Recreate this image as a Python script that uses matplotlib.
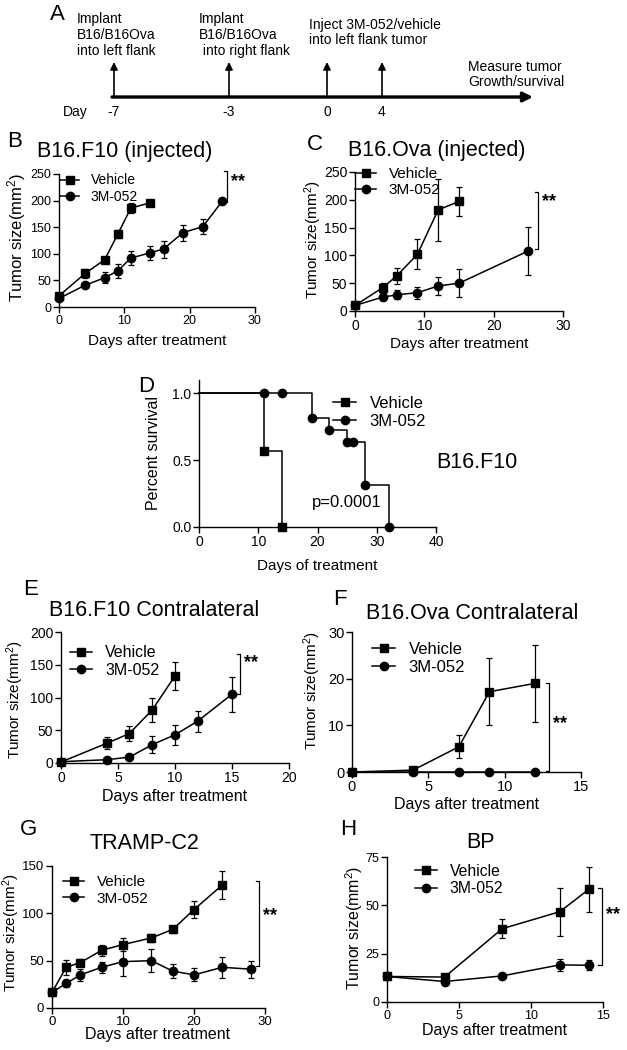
import matplotlib
matplotlib.use("Agg")
import matplotlib.pyplot as plt
from matplotlib.lines import Line2D

plt.rcParams.update({
    "font.family": ["Liberation Sans", "DejaVu Sans"],
    "mathtext.fontset": "custom",
    "mathtext.rm": "Liberation Sans",
    "mathtext.it": "Liberation Sans",
    "axes.linewidth": 1.0,
})

# ── data ──────────────────────────────────────────────────────────────────────

# A: schedule
timeline_days = ["-7", "-3", "0", "4"]
timeline_notes = [
    "Implant\nB16/B16Ova\ninto left flank",
    "Implant\nB16/B16Ova\n into right flank",
    "Inject 3M-052/vehicle\ninto left flank tumor",
]
timeline_end = "Measure tumor\nGrowth/survival"

# B: B16.F10 injected
b_days_veh = [0, 4, 7, 9, 11, 14]
b_veh = [21, 63, 89, 137, 186, 196]
b_veh_err = [3, 8, 4, 8, 10, 4]
b_days_3m = [0, 4, 7, 9, 11, 14, 16, 19, 22, 25]
b_3m = [16, 41, 55, 68, 92, 102, 109, 140, 151, 199]
b_3m_err = [3, 3, 10, 13, 13, 13, 16, 15, 14, 3]

# C: B16.Ova injected
c_days_veh = [0, 4, 6, 9, 12, 15]
c_veh = [10, 42, 63, 102, 182, 197]
c_veh_err = [3, 9, 15, 27, 56, 26]
c_days_3m = [0, 4, 6, 9, 12, 15, 25]
c_3m = [10, 25, 29, 33, 45, 50, 108]
c_3m_err = [3, 6, 8, 11, 17, 25, 43]

# D: survival, B16.F10
d_veh_t = [0, 11, 14]
d_veh_s = [1.0, 0.571, 0.0]
d_veh_mark_t = [11, 14]
d_veh_mark_s = [0.571, 0.0]
d_3m_t = [0, 19, 22, 25, 28, 32]
d_3m_s = [1.0, 0.818, 0.727, 0.636, 0.318, 0.0]
d_3m_mark_t = [11, 14, 19, 22, 25, 26, 28, 32]
d_3m_mark_s = [1.0, 1.0, 0.818, 0.727, 0.636, 0.636, 0.318, 0.0]

# E: B16.F10 contralateral
e_days_veh = [0, 4, 6, 8, 10]
e_veh = [1.5, 30, 45, 81, 133]
e_veh_err = [1, 9, 12, 18, 21]
e_days_3m = [0, 4, 6, 8, 10, 12, 15]
e_3m = [2, 5, 9, 28, 43, 64, 105]
e_3m_err = [1, 2, 4, 13, 15, 16, 27]

# F: B16.Ova contralateral
f_days = [0, 4, 7, 9, 12]
f_veh = [0, 0.4, 5.4, 17.2, 19.0]
f_veh_err = [0, 0.3, 2.5, 7.2, 8.2]
f_3m = [0, 0, 0, 0, 0]
f_3m_err = [0, 0, 0, 0, 0]

# G: TRAMP-C2
g_days_veh = [0, 2, 4, 7, 10, 14, 17, 20, 24]
g_veh = [16.5, 43, 48, 61, 67, 74, 83, 104, 130]
g_veh_err = [3, 8, 4, 6, 7, 4, 4, 9, 15]
g_days_3m = [0, 2, 4, 7, 10, 14, 17, 20, 24, 28]
g_3m = [16.5, 26, 35, 43, 49, 50, 39, 35, 43, 41]
g_3m_err = [3, 4, 6, 6, 15, 12, 7, 7, 11, 9]

# H: BP
h_days = [0, 4, 8, 12, 14]
h_veh = [13.2, 12.9, 37.9, 46.7, 58.2]
h_veh_err = [1, 1, 5, 12.5, 11.5]
h_3m = [13.2, 10.6, 13.5, 19.2, 19.0]
h_3m_err = [1.5, 1, 1.5, 3, 2.5]

legend_labels = ["Vehicle", "3M-052"]

# ── helpers ───────────────────────────────────────────────────────────────────

W, H = 627, 1050
fig = plt.figure(figsize=(W / 100, H / 100), dpi=100)


def px_axes(left, top, right, bottom):
    return fig.add_axes([left / W, 1 - bottom / H, (right - left) / W, (bottom - top) / H])


def ftext(x, y, s, **kw):
    return fig.text(x / W, 1 - y / H, s, **kw)


def style_axes(ax, xlim, xticks, ylim, yticks, labelsize):
    ax.spines[["top", "right"]].set_visible(False)
    ax.set_xlim(*xlim)
    ax.set_ylim(*ylim)
    ax.set_xticks(xticks)
    ax.set_yticks(yticks)
    ax.tick_params(direction="out", length=4, width=1, labelsize=labelsize, pad=1.5)
    ax.patch.set_alpha(0)


def plot_series(ax, days, vals, errs, marker):
    ax.errorbar(days, vals, yerr=errs, fmt="none", ecolor="k", elinewidth=0.9,
                capsize=2.3, capthick=0.9, clip_on=False, zorder=2)
    ax.plot(days, vals, color="k", lw=1.1, marker=marker, ms=6, clip_on=False, zorder=3)


def add_legend(ax, x, y, fontsize):
    handles = [Line2D([], [], color="k", lw=1.1, marker="s", ms=6),
               Line2D([], [], color="k", lw=1.1, marker="o", ms=6)]
    ax.legend(handles, legend_labels, loc="center left",
              bbox_to_anchor=(x / W, 1 - y / H), bbox_transform=fig.transFigure,
              frameon=False, fontsize=fontsize, handlelength=1.4, handletextpad=0.8,
              labelspacing=0.15, borderpad=0, borderaxespad=0)


def sig_bracket(ax, x, low, high, star_y, tick):
    ax.plot([x - tick, x, x, x - tick], [low, low, high, high], color="k", lw=0.9,
            clip_on=False)
    ax.annotate("**", xy=(x, star_y), xytext=(3, 0), textcoords="offset points",
                va="center", ha="left", fontsize=13, fontweight="bold",
                annotation_clip=False)


def growth_panel(box, veh, m3, xlim, xticks, ylim, yticks, ticksize):
    ax = px_axes(*box)
    style_axes(ax, xlim, xticks, ylim, yticks, ticksize)
    plot_series(ax, *veh, "s")
    plot_series(ax, *m3, "o")
    return ax


# ── A: schedule ───────────────────────────────────────────────────────────────

ax_a = fig.add_axes([0, 0, 1, 1])
ax_a.set_xlim(0, W)
ax_a.set_ylim(H, 0)
ax_a.axis("off")
ax_a.patch.set_alpha(0)

event_x = [114, 229, 327, 382]
ax_a.annotate("", xy=(533, 97), xytext=(112, 97),
              arrowprops=dict(arrowstyle="-|>", lw=2.4, color="k", mutation_scale=14,
                              shrinkA=0, shrinkB=0))
for ex, day in zip(event_x, timeline_days):
    ax_a.annotate("", xy=(ex, 62), xytext=(ex, 97),
                  arrowprops=dict(arrowstyle="-|>", lw=1.2, color="k", mutation_scale=11,
                                  shrinkA=0, shrinkB=0))
    ax_a.text(ex, 112, day, ha="center", va="center", fontsize=10)
ax_a.text(63, 112, "Day", ha="left", va="center", fontsize=10)

for tx, ty, note in zip([77, 199, 309], [35, 35, 32.5], timeline_notes):
    ax_a.text(tx, ty, note, ha="left", va="center", fontsize=10, linespacing=1.15)
ax_a.text(468, 74.5, timeline_end, ha="left", va="center", fontsize=10, linespacing=1.15)

# ── B ─────────────────────────────────────────────────────────────────────────

ax_b = growth_panel((59, 174, 255, 307),
                    (b_days_veh, b_veh, b_veh_err), (b_days_3m, b_3m, b_3m_err),
                    (0, 30), [0, 10, 20, 30], (0, 250), [0, 50, 100, 150, 200, 250], 9)
add_legend(ax_b, 60, 188.5, 10)
sig_bracket(ax_b, 25.7, 198, 255, 236, 0.45)

# ── C ─────────────────────────────────────────────────────────────────────────

ax_c = growth_panel((355, 172, 563, 311),
                    (c_days_veh, c_veh, c_veh_err), (c_days_3m, c_3m, c_3m_err),
                    (0, 30), [0, 10, 20, 30], (0, 250), [0, 50, 100, 150, 200, 250], 10)
add_legend(ax_c, 355, 182, 11)
sig_bracket(ax_c, 26.4, 111, 214, 196, 0.45)

# ── D: survival ───────────────────────────────────────────────────────────────

ax_d = px_axes(199, 380, 436, 527)
style_axes(ax_d, (0, 40), [0, 10, 20, 30, 40], (0, 1.1), [0.0, 0.5, 1.0], 10)
ax_d.yaxis.set_major_formatter(matplotlib.ticker.FormatStrFormatter("%.1f"))
ax_d.step(d_veh_t, d_veh_s, where="post", color="k", lw=1.1, clip_on=False)
ax_d.step(d_3m_t, d_3m_s, where="post", color="k", lw=1.1, clip_on=False)
ax_d.plot(d_veh_mark_t, d_veh_mark_s, "s", color="k", ms=6, ls="none", clip_on=False)
ax_d.plot(d_3m_mark_t, d_3m_mark_s, "o", color="k", ms=6, ls="none", clip_on=False)
add_legend(ax_d, 333, 412.5, 12)
ftext(477, 462, "B16.F10", ha="center", va="center", fontsize=15.5)
ftext(347, 502, "p=0.0001", ha="center", va="center", fontsize=12)

# ── E ─────────────────────────────────────────────────────────────────────────

ax_e = growth_panel((61, 632, 289, 763),
                    (e_days_veh, e_veh, e_veh_err), (e_days_3m, e_3m, e_3m_err),
                    (0, 20), [0, 5, 10, 15, 20], (0, 200), [0, 50, 100, 150, 200], 10)
add_legend(ax_e, 70, 661.5, 11.5)
sig_bracket(ax_e, 15.7, 105, 166, 154, 0.3)

# ── F ─────────────────────────────────────────────────────────────────────────

ax_f = growth_panel((352, 632, 581, 772),
                    (f_days, f_veh, f_veh_err), (f_days, f_3m, f_3m_err),
                    (0, 15), [0, 5, 10, 15], (0, 30), [0, 10, 20, 30], 10.5)
add_legend(ax_f, 372, 658.5, 12)
sig_bracket(ax_f, 12.9, 0.3, 19.1, 10.3, 0.22)

# ── G ─────────────────────────────────────────────────────────────────────────

ax_g = growth_panel((52, 866, 265, 1008),
                    (g_days_veh, g_veh, g_veh_err), (g_days_3m, g_3m, g_3m_err),
                    (0, 30), [0, 10, 20, 30], (0, 150), [0, 50, 100, 150], 9.5)
add_legend(ax_g, 63, 890.5, 11)
sig_bracket(ax_g, 29.2, 44, 134, 98, 0.45)

# ── H ─────────────────────────────────────────────────────────────────────────

ax_h = growth_panel((387, 857, 603, 1002),
                    (h_days, h_veh, h_veh_err), (h_days, h_3m, h_3m_err),
                    (0, 15), [0, 5, 10, 15], (0, 75), [0, 25, 50, 75], 9)
add_legend(ax_h, 415, 880, 11.3)
sig_bracket(ax_h, 14.9, 19.2, 59, 45, 0.22)

# ── titles, axis labels, panel letters ────────────────────────────────────────

ylab = "Tumor size(mm$^{\\mathrm{2}}$)"
titles = [(125, 157, "B16.F10 (injected)"), (437, 156, "B16.Ova (injected)"),
          (154, 616, "B16.F10 Contralateral"), (472, 619, "B16.Ova Contralateral"),
          (144, 849, "TRAMP-C2"), (480, 848, "BP")]
for x, y, s in titles:
    ftext(x, y, s, ha="center", va="baseline", fontsize=15.5)

xlabels = [(157, 341, "Days after treatment", 11), (459, 344, "Days after treatment", 11),
           (317, 566, "Days of treatment", 11), (175, 796, "Days after treatment", 11.5),
           (467, 804, "Days after treatment", 11.5), (158, 1035, "Days after treatment", 11.5),
           (495, 1030, "Days after treatment", 11.5)]
for x, y, s, fs in xlabels:
    ftext(x, y, s, ha="center", va="center", fontsize=fs)

ylabels = [(17, 237, ylab, 12), (313, 240, ylab, 11), (153, 453, "Percent survival", 11.5),
           (15, 700, ylab, 11), (312, 691, ylab, 11), (11, 933, ylab, 11),
           (354, 928, ylab, 11.5)]
for x, y, s, fs in ylabels:
    ftext(x, y, s, ha="center", va="center", rotation=90, fontsize=fs)

letters = [(50, 20, "A"), (7, 147, "B"), (307, 150, "C"), (138, 392, "D"),
           (23, 595, "E"), (333, 605, "F"), (20, 835, "G"), (340, 835, "H")]
for x, y, s in letters:
    ftext(x, y, s, ha="left", va="baseline", fontsize=16)

fig.savefig("out.png", dpi=100)
